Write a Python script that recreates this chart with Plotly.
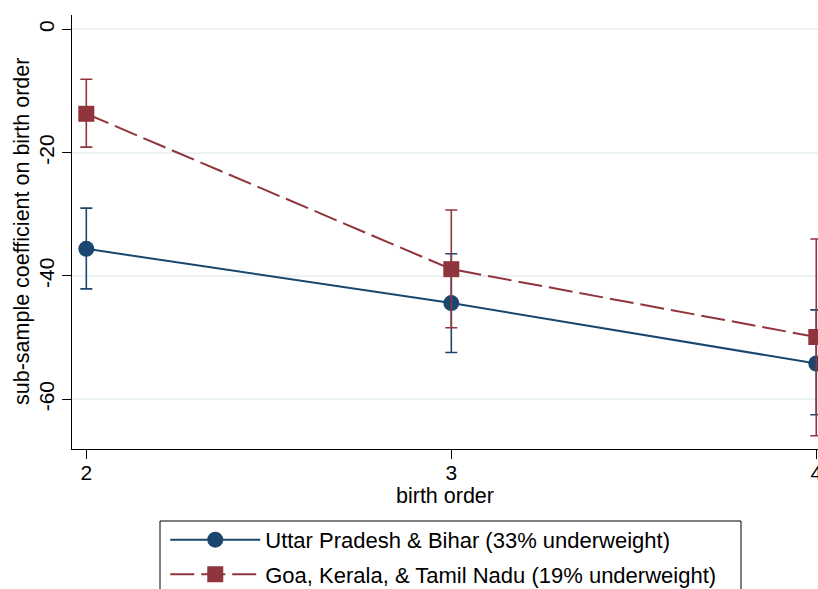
import plotly.graph_objects as go

birth_order = [2, 3, 4]

up_name = "Uttar Pradesh & Bihar (33% underweight)"
up_coef = [-35.6, -44.4, -54.2]
up_lo = [-42.1, -52.4, -62.5]
up_hi = [-29.0, -36.4, -45.5]

goa_name = "Goa, Kerala, & Tamil Nadu (19% underweight)"
goa_coef = [-13.7, -38.9, -49.9]
goa_lo = [-19.1, -48.4, -65.9]
goa_hi = [-8.1, -29.3, -34.0]

y_ticks = [0, -20, -40, -60]
x_ticks = [2, 3, 4]
y_title = "sub-sample coefficient on birth order"
x_title = "birth order"

NAVY = "#1a476f"
MAROON = "#90353b"
FONT = "Liberation Sans, Arial, sans-serif"


def err(coef, lo, hi):
    plus = [h - c for c, h in zip(coef, hi)]
    minus = [c - l for c, l in zip(coef, lo)]
    return plus, minus


fig = go.Figure()
for i, (name, coef, lo, hi, color, symbol, dash) in enumerate([
    (up_name, up_coef, up_lo, up_hi, NAVY, "circle", "solid"),
    (goa_name, goa_coef, goa_lo, goa_hi, MAROON, "square", "24px,7px"),
]):
    plus, minus = err(coef, lo, hi)
    fig.add_trace(go.Scatter(
        x=birth_order, y=coef, name=name, mode="lines+markers",
        legendgroup=f"g{i}",
        line=dict(color=color, width=2, dash=dash),
        marker=dict(color=color, size=16, symbol=symbol),
        error_y=dict(type="data", array=plus, arrayminus=minus, symmetric=False,
                     color=color, thickness=1.6, width=6),
    ))

# legend frame (paper coords; plot area spans x 72..818, y 15..449 px)
fig.add_shape(
    type="rect", xref="paper", yref="paper",
    x0=(160 - 72) / 746, x1=(741 - 72) / 746,
    y0=(449 - 521) / 434, y1=(449 - 600) / 434,
    line=dict(color="black", width=1), fillcolor="rgba(0,0,0,0)", layer="above",
)

# y-axis title placed as an annotation for exact position
fig.add_annotation(
    text=y_title, xref="paper", yref="paper",
    x=(22 - 72) / 746, y=0.5, xanchor="center", yanchor="middle",
    textangle=-90, showarrow=False, font=dict(size=21.5),
)

fig.update_layout(
    width=818, height=589,
    margin=dict(l=72, r=0, t=15, b=140, autoexpand=False),
    paper_bgcolor="white", plot_bgcolor="white",
    font=dict(family=FONT, size=21, color="black"),
    legend=dict(
        x=0.125, y=-0.161, xanchor="left", yanchor="top",
        borderwidth=0, bgcolor="rgba(0,0,0,0)",
        font=dict(size=22), itemwidth=90,
        traceorder="grouped", tracegroupgap=3,
    ),
)
fig.update_xaxes(
    range=[1.9608, 4.0047], tickvals=x_ticks, ticktext=[str(v) for v in x_ticks],
    showline=True, linecolor="black", linewidth=1.2,
    ticks="outside", ticklen=9, tickcolor="black", tickfont=dict(size=21),
    ticklabelstandoff=-4, ticklabeloverflow="allow",
    showgrid=False, zeroline=False, automargin=False,
    title=dict(text=x_title, standoff=3, font=dict(size=21.5)),
)
fig.update_yaxes(
    range=[-68.06, 2.32], tickvals=y_ticks, ticktext=[str(v) for v in y_ticks],
    showline=True, linecolor="black", linewidth=1.2,
    ticks="outside", ticklen=9, tickcolor="black", tickangle=-90, tickfont=dict(size=21),
    showgrid=True, gridcolor="#eaf2f3", gridwidth=1.5, zeroline=False, automargin=False,
)

fig.write_html(
    "out.html",
    config={"displayModeBar": False},
    post_script="document.body.style.margin='0';document.body.style.overflow='hidden';",
)
